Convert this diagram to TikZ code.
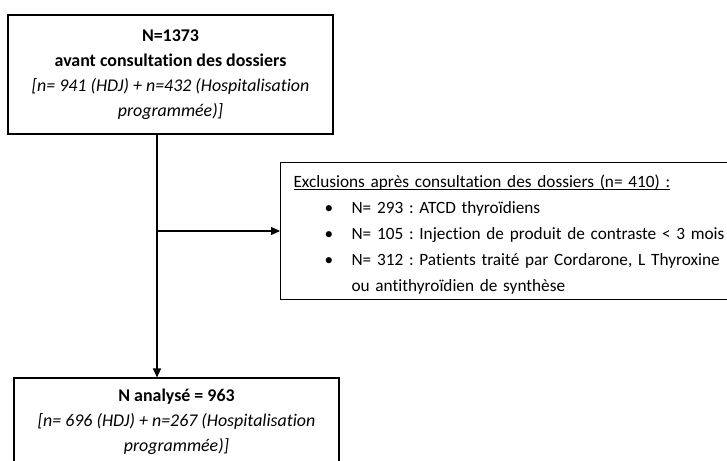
\documentclass[tikz,border=0pt]{standalone}
\usepackage{fontspec}
\setmainfont{Carlito}[Ligatures=NoCommon]
\usetikzlibrary{arrows.meta}
\newcommand\ulbar[1]{\setbox0\hbox{#1}\rlap{\rule[-2.6pt]{\wd0}{0.9pt}}\box0}
\frenchspacing

\begin{document}
\begin{tikzpicture}
[x=1pt,y=-1pt,
box/.style={draw,line width=1.1pt,inner sep=0pt,font=\fontsize{17.9}{25}\selectfont},
link/.style={line width=1.1pt,-{Triangle[length=9pt,width=8pt]}}]
\useasboundingbox (0,0) rectangle (727,460);
\clip (0,0) rectangle (727,460);
% boxes
\node [box,minimum width=325pt,minimum height=119pt,align=center] (total) at (170.5,74.5)
{\textbf{N=1373}\\ \textbf{avant consultation des dossiers}\\
\textit{[n= 941 (HDJ) + n=432 (Hospitalisation}\\ \textit{programmée)]}};
\node [box,minimum width=325pt,minimum height=88pt,align=center] (analyse) at (176.5,422)
{\textbf{N analysé = 963}\\ \textit{[n= 696 (HDJ) + n=267 (Hospitalisation}\\
\textit{programmée)]}};
\node [box,anchor=north west,minimum width=458pt,minimum height=137pt,
text width=445pt,inner xsep=13pt,align=left,
font=\fontsize{17.25}{26}\selectfont] (excl) at (280,162)
{\rule{0pt}{19pt}\ulbar{Exclusions après consultation des dossiers (n= 410) :}\\
\hspace*{31pt}\makebox[27pt][l]{\textbullet}N= 293 : ATCD thyroïdiens\\
\hspace*{31pt}\makebox[27pt][l]{\textbullet}N= 105 : Injection de produit de contraste < 3 mois\\
\hspace*{31pt}\makebox[27pt][l]{\textbullet}N= 312 : Patients traité par Cordarone, L Thyroxine\\
\hspace*{58pt}ou antithyroïdien de synthèse};
% arrows
\coordinate (split) at (157,231);
\draw [link] (total.south -| split) -- (analyse.north -| split);
\draw [link] (split) -- (excl.west |- split);
\end{tikzpicture}
\end{document}
